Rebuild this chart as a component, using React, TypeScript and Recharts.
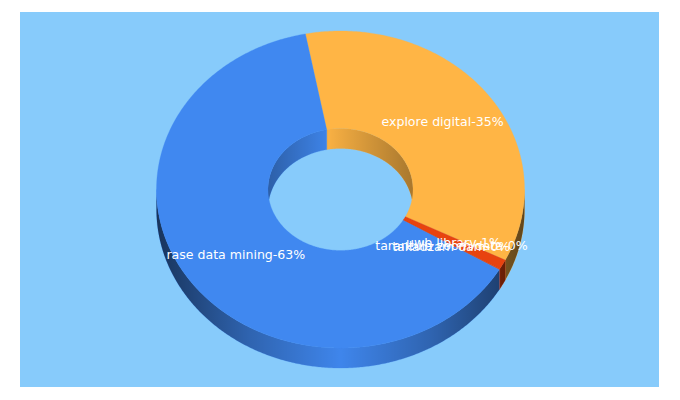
import React from "react";
import { PieChart, Pie } from "recharts";

const names = ["explore digital", "uwb library", "tarantula zoom data", "takadzam dam", "rase data mining"];
const shares = [35.4, 1.0, 0.05, 0.05, 63.5];
const colors = ["#FFB545", "#E8430F", "#E8430F", "#E8430F", "#4088F0"];
const data = names.map((name, i) => ({ name, value: shares[i], fill: colors[i] }));

const CX = 340.5;
const CY = 189.5;
const R_OUT = 184;
const R_IN = 72.5;
const SQUASH_OUT = 158.5 / 184;
const SQUASH_IN = 61 / 72.5;
const DEPTH = 20;
const START = 101;

const pt = (cx: number, cy: number, r: number, k: number, deg: number, dy = 0) => {
  const a = (deg * Math.PI) / 180;
  return [cx + r * Math.cos(a), cy - r * k * Math.sin(a) + dy];
};

const arc = (cx: number, cy: number, r: number, k: number, from: number, to: number, dy = 0) => {
  const n = Math.max(2, Math.ceil(Math.abs(from - to) * 2));
  const out: string[] = [];
  for (let i = 0; i <= n; i++) {
    const p = pt(cx, cy, r, k, from + ((to - from) * i) / n, dy);
    out.push(`${p[0].toFixed(2)},${p[1].toFixed(2)}`);
  }
  return out;
};

const clipBand = (hi: number, lo: number, bandLo: number, bandHi: number) => {
  const parts: [number, number][] = [];
  for (const s of [-360, 0, 360]) {
    const h = Math.min(hi + s, bandHi);
    const l = Math.max(lo + s, bandLo);
    if (h > l) parts.push([h, l]);
  }
  return parts;
};

const wall = (r: number, k: number, gradId: string, bandLo: number, bandHi: number) => (p: any) => {
  const parts = clipBand(p.startAngle, p.endAngle, bandLo, bandHi);
  return (
    <g>
      {parts.map(([h, l], i) => {
        const d =
          "M" +
          [...arc(p.cx, p.cy, r, k, h, l), ...arc(p.cx, p.cy, r, k, l, h, DEPTH)].join("L") +
          "Z";
        return (
          <g key={i}>
            <path d={d} fill={p.fill} stroke={p.fill} strokeWidth={0.3} />
            <path d={d} fill={`url(#${gradId})`} />
          </g>
        );
      })}
    </g>
  );
};

const InnerWall = wall(R_IN, SQUASH_IN, "shadeInner", 0, 180);
const OuterWall = wall(R_OUT, SQUASH_OUT, "shadeOuter", -180, 0);

const Top = (p: any) => {
  const d =
    "M" +
    [
      ...arc(p.cx, p.cy, p.outerRadius, SQUASH_OUT, p.startAngle, p.endAngle),
      ...arc(p.cx, p.cy, p.innerRadius, SQUASH_IN, p.endAngle, p.startAngle),
    ].join("L") +
    "Z";
  return <path d={d} fill={p.fill} stroke={p.fill} strokeWidth={0.3} />;
};

const renderLabel = (p: any) => {
  const r = (R_OUT + R_IN) / 2;
  const k = 0.875;
  const [x, y] = pt(p.cx, p.cy, r, k, p.midAngle);
  return (
    <text
      x={x}
      y={y}
      dy={4.5}
      textAnchor="middle"
      fill="#ffffff"
      fontSize={12.55}
      fontFamily="DejaVu Sans, Verdana, sans-serif"
    >
      {`${p.name}-${Math.floor(p.value)}%`}
    </text>
  );
};

const pieBase = {
  data,
  dataKey: "value",
  nameKey: "name",
  cx: CX,
  cy: CY,
  innerRadius: R_IN,
  outerRadius: R_OUT,
  startAngle: START,
  endAngle: START - 360,
  paddingAngle: 0,
  stroke: "none",
  isAnimationActive: false,
  labelLine: false,
  legendType: "none",
} as any;

export default function App() {
  return (
    <div style={{ position: "fixed", left: 0, top: 0, width: 680, height: 400, background: "#fff", overflow: "hidden" }}>
      <div style={{ position: "absolute", left: 20, top: 12, width: 639, height: 375, background: "#87CBFB" }} />
      <svg width={0} height={0} style={{ position: "absolute" }}>
        <defs>
          <linearGradient id="shadeOuter" gradientUnits="userSpaceOnUse" x1={CX - R_OUT} x2={CX + R_OUT} y1={0} y2={0}>
            <stop offset="0" stopColor="#000" stopOpacity={0.62} />
            <stop offset="0.25" stopColor="#000" stopOpacity={0.27} />
            <stop offset="0.5" stopColor="#000" stopOpacity={0.02} />
            <stop offset="0.75" stopColor="#000" stopOpacity={0.27} />
            <stop offset="1" stopColor="#000" stopOpacity={0.62} />
          </linearGradient>
          <linearGradient id="shadeInner" gradientUnits="userSpaceOnUse" x1={CX - R_IN} x2={CX + R_IN} y1={0} y2={0}>
            <stop offset="0" stopColor="#000" stopOpacity={0.3} />
            <stop offset="0.42" stopColor="#000" stopOpacity={0.03} />
            <stop offset="1" stopColor="#000" stopOpacity={0.34} />
          </linearGradient>
        </defs>
      </svg>
      <div style={{ position: "absolute", left: 0, top: 0 }}>
        <PieChart width={680} height={400} margin={{ top: 0, right: 0, bottom: 0, left: 0 }}>
          <Pie {...pieBase} shape={InnerWall} />
          <Pie {...pieBase} shape={OuterWall} />
          <Pie {...pieBase} shape={Top} label={renderLabel} />
        </PieChart>
      </div>
    </div>
  );
}
